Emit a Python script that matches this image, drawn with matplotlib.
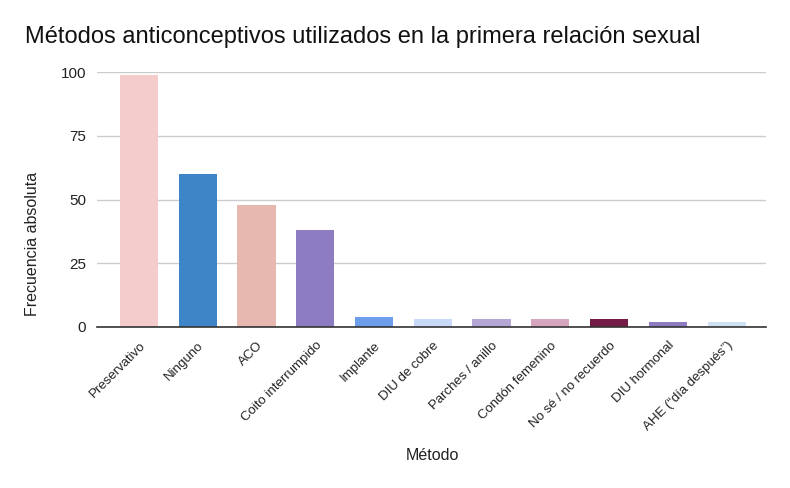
import matplotlib.pyplot as plt

plt.rcParams['font.family'] = ['Liberation Sans', 'DejaVu Sans']

metodos = ["Preservativo", "Ninguno", "ACO", "Coito interrumpido", "Implante",
           "DIU de cobre", "Parches / anillo", "Condón femenino",
           "No sé / no recuerdo", "DIU hormonal", "AHE (\u201cdía después\u201d)"]
frecuencia = [99, 60, 48, 38, 4, 3, 3, 3, 3, 2, 2]
colores = ["#f4cccc", "#3d85c6", "#e6b8af", "#8e7cc3", "#6d9eeb", "#c9daf8",
           "#b4a7d6", "#d5a6bd", "#741b47", "#8e7cc3", "#cfe2f3"]
yticks = [0, 25, 50, 75, 100]

fig = plt.figure(figsize=(7.9, 4.88), dpi=100)
ax = fig.add_axes([97 / 790, 1 - 327 / 488, (766 - 97) / 790, (327 - 72) / 488])

x = range(len(metodos))
ax.bar(x, frecuencia, width=0.65, color=colores, zorder=3)

ax.set_xlim(-0.715, 10.67)
ax.set_ylim(0, 100)
ax.set_yticks(yticks)
ax.grid(axis='y', color='#cccccc', linewidth=1, zorder=0)
ax.tick_params(axis='y', length=0, labelsize=11, colors='#222222', pad=8)
ax.tick_params(axis='x', length=0, pad=9)
ax.set_xticks(list(x))
ax.set_xticklabels(metodos, rotation=45, ha='right', rotation_mode='anchor',
                   fontsize=9.5, color='#222222')

for s in ['top', 'right', 'left']:
    ax.spines[s].set_visible(False)
ax.spines['bottom'].set_color('#333333')
ax.spines['bottom'].set_linewidth(1.2)
ax.spines['bottom'].set_zorder(4)

fig.text(25 / 790, 1 - 37 / 488, "Métodos anticonceptivos utilizados en la primera relación sexual",
         fontsize=17, color='#111111', va='center', ha='left')
fig.text(33 / 790, 1 - 244 / 488, "Frecuencia absoluta", rotation=90,
         fontsize=11.5, color='#222222', va='center', ha='center')
fig.text(432 / 790, 1 - 455 / 488, "Método", fontsize=11.5, color='#222222',
         va='center', ha='center')

fig.savefig("out.png", dpi=100)
